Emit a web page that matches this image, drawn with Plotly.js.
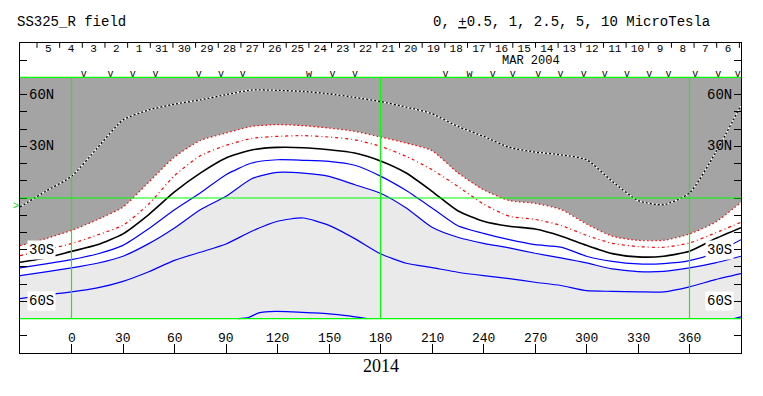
<!DOCTYPE html>
<html><head><meta charset="utf-8">
<script src="https://cdn.plot.ly/plotly-3.0.1.min.js"></script>
<style>html,body{margin:0;padding:0;background:#fff}</style>
</head><body><div id="chart" style="width:763px;height:396px"></div>
<script>
// ---- data (Carrington longitude vs latitude of field contours) ----
const LON = [-30,-15,0,15,30,45,60,75,90,105,120,135,150,165,180,195,210,225,240,255,270,285,300,315,330,345,360,375,390];
const LAT_DOTTED = [-5.2,3.9,12.6,29,45.3,51.1,54.5,57,60,62.7,62.5,61.9,60.5,58.4,56,52.8,48.9,41.6,35.8,29.4,26.7,25.1,22.2,9.7,-1.5,-3.9,2.9,26,53.8];
const LAT_EDGE   = [-27.7,-23.6,-18.8,-12.6,-5.2,9.2,23.8,33.4,37.7,41.6,42.6,42.0,40.6,38.7,35.4,31.9,27.5,14.7,4.8,-1.5,-3.1,-6.6,-15.1,-22.2,-24.6,-24.6,-20.9,-14.1,-2.5];
const LAT_RED2   = [-33.5,-30.0,-26.5,-21.5,-15.8,-3.5,13,24.5,30.6,34.6,35.8,36.2,35.4,33.8,30.0,24.2,16.4,6.8,-3.5,-10.6,-12.4,-15.9,-21.7,-26.3,-28.2,-28.6,-26.1,-20.3,-14.1];
const LAT_ZERO   = [-37.3,-34.8,-31.0,-27.2,-20.8,-9.6,3.5,14.4,23.2,27.9,29.4,29.2,28.0,26.1,21.5,14.5,3.9,-7.4,-13.5,-16.4,-18.0,-22.0,-27.5,-32.3,-34.2,-33.8,-30.9,-23.6,-17.2];
const LAT_BLUE1  = [-40.6,-38.3,-35.8,-32.5,-27.5,-17.8,-6.8,2.9,13.5,20.3,22.2,21.9,21.3,19.0,12.7,4.3,-5.8,-16.1,-20.5,-24.2,-27.1,-28.5,-33.8,-36.8,-38.3,-38.1,-36.4,-31.9,-24.2];
const LAT_BLUE2  = [-45.1,-42.9,-40.6,-37.9,-33.8,-26.5,-17.4,-6.8,1.0,11.2,14.9,14.5,12.6,7.7,2.8,-5.8,-17.0,-22.8,-26.3,-29.0,-32.1,-34.8,-37.7,-41.2,-42.7,-42.6,-40.6,-37.7,-33.8];
const LAT_BLUE3  = [-58.4,-56.3,-54.5,-52.2,-48.4,-42.8,-36.2,-31.5,-26.7,-19.3,-13.5,-11.6,-15.9,-23.6,-32.4,-37.9,-40.4,-43.1,-45.1,-46.8,-48.9,-50.8,-53.8,-54.2,-54.5,-54.5,-51.6,-47.4,-43.9];
const LON_BLUE4  = [97,103,109,119,129,140,150,160,172];
const LAT_BLUE4  = [-70,-69.5,-66.7,-65.8,-66.1,-66.7,-67.3,-68.3,-70];
const LON_BLUE5  = [386,390];
const LAT_BLUE5  = [-70,-69];

// observation marks along the top ("v"; "w" = two overlapping marks)
const OBS_LON  = [7.2,22.7,35.7,48.9,74.1,87.1,99.7,138.4,152.0,165.2,217.9,231.9,245.4,257.0,271.9,284.8,298.4,310.6,323.6,336.5,347.8,363.3,376.7,388.1];
const OBS_TEXT = ['v','v','v','v','v','v','v','w','v','v','v','w','v','v','v','v','v','v','v','v','v','v','v','v'];

// date row (MAR 2004, decreasing with longitude)
const DAY_LABELS = ['5','4','3','2','1','31','30','29','28','27','26','25','24','23','22','21','20','19','18','17','16','15','14','13','12','11','10','9','8','7','6'];
const DAY_LON0 = -13.5;          // longitude of first day label
const DAY_STEP = 360/27.2753;    // degrees per day (Carrington)

const X_TICKS = [0,30,60,90,120,150,180,210,240,270,300,330,360];
const Y_TICKS = [-80,-70,-60,-50,-40,-30,-20,-10,0,10,20,30,40,50,60,70,80];
const Y_LABEL_LAT  = [60,30,-30,-60];
const Y_LABEL_TEXT = ['60N','30N','30S','60S'];
const GRID_LON = [0,180,360];
const GRID_LAT = [-70,0,70];
const LON_RANGE = [-30,390];
const LAT_RANGE = [-90,90];
const DATA_LAT = 70;

// ---- build ----
const MONO = 'Liberation Mono, Courier New, monospace';
const topLine = LON.map(() => DATA_LAT);
const DARK = '#a4a4a4', LIGHT = '#eaeaea';
const sp = {shape:'spline', smoothing:0.6};

const traces = [];
traces.push({x:LON, y:LAT_BLUE2, mode:'lines', line:{width:0, ...sp}, hoverinfo:'skip', showlegend:false});
traces.push({x:LON, y:topLine, mode:'lines', line:{width:0}, fill:'tonexty', fillcolor:'#ffffff', hoverinfo:'skip', showlegend:false});
traces.push({x:LON, y:LAT_EDGE, mode:'lines', line:{width:0, ...sp}, hoverinfo:'skip', showlegend:false});
traces.push({x:LON, y:topLine, mode:'lines', line:{width:0}, fill:'tonexty', fillcolor:DARK, hoverinfo:'skip', showlegend:false});

const ln = (x, y, color, width, dash) => ({x, y, mode:'lines', line:{color, width, dash: dash||'solid', ...sp}, hoverinfo:'skip', showlegend:false});
traces.push(ln(LON, LAT_DOTTED, '#ffffff', 1.3));
traces.push(ln(LON, LAT_DOTTED, '#000000', 1.3, '2px,2px'));
traces.push(ln(LON, LAT_EDGE, '#ff0000', 1.2, '1.5px,2.5px'));
traces.push(ln(LON, LAT_RED2, '#ff0000', 1.2, '3px,3px,1px,3px'));
traces.push(ln(LON, LAT_ZERO, '#000000', 1.6));
traces.push(ln(LON, LAT_BLUE1, '#0000ff', 1.2));
traces.push(ln(LON, LAT_BLUE2, '#0000ff', 1.2));
traces.push(ln(LON, LAT_BLUE3, '#0000ff', 1.2));
traces.push(ln(LON_BLUE4, LAT_BLUE4, '#0000ff', 1.2));
traces.push(ln(LON_BLUE5, LAT_BLUE5, '#0000ff', 1.2));

// day labels
const dayLon = DAY_LABELS.map((_, i) => DAY_LON0 + i*DAY_STEP);
traces.push({x:dayLon, y:dayLon.map(() => 86.4), mode:'text', text:DAY_LABELS,
  textfont:{family:MONO, size:11, color:'#000'}, hoverinfo:'skip', showlegend:false, cliponaxis:false});
// separators
const sepX = [], sepY = [];
for (let k = 0; k <= DAY_LABELS.length; k++) {
  const x = DAY_LON0 + (k - 0.5)*DAY_STEP;
  sepX.push(x, x, null); sepY.push(LAT_RANGE[1], 87.2, null);
}
traces.push({x:sepX, y:sepY, mode:'lines', line:{color:'#000', width:1}, hoverinfo:'skip', showlegend:false});
// observation marks
traces.push({x:OBS_LON, y:OBS_LON.map(() => 71.6), mode:'text', text:OBS_TEXT,
  textfont:{family:MONO, size:10, color:'#000'}, hoverinfo:'skip', showlegend:false});

const shapes = [{type:'rect', layer:'below', xref:'x', yref:'y', x0:LON_RANGE[0], x1:LON_RANGE[1], y0:-DATA_LAT, y1:DATA_LAT, fillcolor:LIGHT, line:{width:0}}];
GRID_LON.forEach(g => shapes.push({type:'line', layer:'above', xref:'x', yref:'y', x0:g, x1:g, y0:-DATA_LAT, y1:DATA_LAT, line:{color:'#00ff00', width:1.2}}));
GRID_LAT.forEach(g => shapes.push({type:'line', layer:'above', xref:'x', yref:'y', x0:LON_RANGE[0], x1:LON_RANGE[1], y0:g, y1:g, line:{color:'#00ff00', width:1.2}}));

const annotations = [];
X_TICKS.forEach(t => annotations.push({x:t, y:LAT_RANGE[0], xref:'x', yref:'y', text:String(t), showarrow:false,
  yanchor:'middle', yshift:15, font:{family:MONO, size:13, color:'#000'}}));
Y_LABEL_LAT.forEach((lat, i) => {
  const bg = lat < 0 ? '#ffffff' : 'rgba(0,0,0,0)';
  annotations.push({x:0, xref:'paper', y:lat, yref:'y', text:Y_LABEL_TEXT[i], showarrow:false, xanchor:'left', xshift:7,
    bgcolor:bg, borderpad:1, font:{family:MONO, size:14, color:'#000'}});
  annotations.push({x:1, xref:'paper', y:lat, yref:'y', text:Y_LABEL_TEXT[i], showarrow:false, xanchor:'right', xshift:-7,
    bgcolor:bg, borderpad:1, font:{family:MONO, size:14, color:'#000'}});
});
annotations.push({x:-0.007, xref:'paper', y:1.068, yref:'paper', text:'SS325_R field', showarrow:false, xanchor:'left', yanchor:'middle',
  font:{family:MONO, size:14, color:'#000'}});
annotations.push({x:0.570, xref:'paper', y:1.068, yref:'paper', text:'0, <u>+</u>0.5, 1, 2.5, 5, 10 MicroTesla', showarrow:false, xanchor:'left', yanchor:'middle',
  font:{family:MONO, size:14, color:'#000'}});
annotations.push({x:267.5, xref:'x', y:79.6, yref:'y', text:'MAR 2004', showarrow:false, yanchor:'middle', borderpad:0,
  font:{family:MONO, size:12, color:'#000'}});
annotations.push({x:180, xref:'x', y:LAT_RANGE[0], yref:'y', text:'2014', showarrow:false, yanchor:'middle', yshift:-13,
  font:{family:'Liberation Serif, Times New Roman, serif', size:18, color:'#000'}});
annotations.push({x:LON_RANGE[0], xref:'x', y:LAT_DOTTED[0], yref:'y', text:'>', showarrow:false, xanchor:'right', xshift:1,
  font:{family:MONO, size:10, color:'#00dd00'}});

const layout = {
  width:763, height:396, margin:{l:20, r:22, t:43, b:43},
  paper_bgcolor:'#ffffff', plot_bgcolor:'#ffffff', showlegend:false,
  xaxis:{range:LON_RANGE, tickvals:X_TICKS, ticks:'inside', ticklen:9, tickcolor:'#000', showticklabels:false,
    showgrid:false, zeroline:false, showline:true, linecolor:'#000', linewidth:1, mirror:true, fixedrange:true},
  yaxis:{range:LAT_RANGE, tickvals:Y_TICKS, ticks:'inside', ticklen:7, tickcolor:'#000', showticklabels:false,
    showgrid:false, zeroline:false, showline:true, linecolor:'#000', linewidth:1, mirror:'ticks', fixedrange:true},
  shapes, annotations
};
Plotly.newPlot('chart', traces, layout, {displayModeBar:false, staticPlot:true});
</script></body></html>
